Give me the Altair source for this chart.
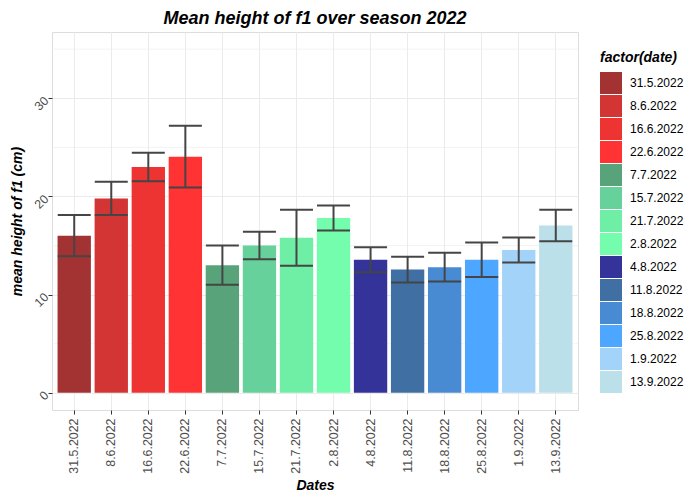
import altair as alt
import pandas as pd

dates = ["31.5.2022", "8.6.2022", "16.6.2022", "22.6.2022", "7.7.2022", "15.7.2022",
         "21.7.2022", "2.8.2022", "4.8.2022", "11.8.2022", "18.8.2022", "25.8.2022",
         "1.9.2022", "13.9.2022"]
means = [16.0, 19.8, 23.0, 24.05, 13.0, 15.0, 15.8, 17.8, 13.55, 12.55, 12.8, 13.55, 14.55, 17.05]
errs = [2.1, 1.7, 1.45, 3.15, 2.0, 1.4, 2.85, 1.27, 1.27, 1.32, 1.47, 1.75, 1.27, 1.6]
colors = ["#A33333", "#D33535", "#EE3333", "#FF3333", "#58A37A", "#66D19A", "#6FEEA6",
          "#73FDAD", "#33339A", "#3F6FA3", "#488BD2", "#4DA6FF", "#A3D3F8", "#BCE0EA"]
minor_grid = [5, 15, 25, 35]
major_ticks = [0, 10, 20, 30]

df = pd.DataFrame({"date": dates, "mean": means, "err": errs})
df["lo"] = df["mean"] - df["err"]
df["hi"] = df["mean"] + df["err"]
minor_df = pd.DataFrame({"v": minor_grid})

FONT = "Liberation Sans"

yscale = alt.Scale(domain=[-1.75, 36.75], nice=False, zero=False)
xscale = alt.Scale(paddingInner=0.1, paddingOuter=0.15)

x_enc = alt.X("date:N", sort=dates, scale=xscale,
              axis=alt.Axis(title="Dates", labelAngle=-90, grid=True, gridColor="#EBEBEB",
                            domain=False, tickColor="#333333", tickSize=4, labelPadding=4,
                            labelFontSize=12.4, labelColor="#4D4D4D", labelFont=FONT,
                            titleFont=FONT, titleFontSize=14, titleFontWeight="bold",
                            titleFontStyle="italic", titleColor="black", titlePadding=5))

minor = alt.Chart(minor_df).mark_rule(color="#EBEBEB", strokeWidth=0.6).encode(
    y=alt.Y("v:Q", scale=yscale)
)

bars = alt.Chart(df).mark_bar(opacity=1).encode(
    x=x_enc,
    y=alt.Y("mean:Q", scale=yscale,
            axis=alt.Axis(title="mean height of f1 (cm)", values=major_ticks, labelAngle=-45,
                          grid=True, gridColor="#EBEBEB", domain=False, tickColor="#333333",
                          tickSize=4, labelPadding=2, labelFontSize=12.4, labelColor="#4D4D4D",
                          labelFont=FONT, titleFont=FONT, titleFontSize=14,
                          titleFontWeight="bold", titleFontStyle="italic", titleColor="black",
                          titlePadding=8)),
    y2=alt.datum(0),
    color=alt.Color("date:N", sort=dates,
                    scale=alt.Scale(domain=dates, range=colors),
                    legend=alt.Legend(title="factor(date)", orient="none", legendX=548,
                                      legendY=19, symbolType="square", symbolSize=484,
                                      symbolStrokeWidth=0, symbolOpacity=1, rowPadding=1,
                                      labelOffset=8, labelFontSize=12, labelColor="black",
                                      labelFont=FONT, titleFont=FONT, titleFontSize=14,
                                      titleFontWeight="bold", titleFontStyle="italic",
                                      titleColor="black", titlePadding=7, padding=0)),
)

rule = alt.Chart(df).mark_rule(color="#454545", strokeWidth=2).encode(
    x=alt.X("date:N", sort=dates, scale=xscale),
    y=alt.Y("lo:Q", scale=yscale),
    y2="hi:Q",
)
tick_lo = alt.Chart(df).mark_tick(color="#454545", thickness=2, size=33, opacity=1).encode(
    x=alt.X("date:N", sort=dates, scale=xscale),
    y=alt.Y("lo:Q", scale=yscale),
)
tick_hi = alt.Chart(df).mark_tick(color="#454545", thickness=2, size=33, opacity=1).encode(
    x=alt.X("date:N", sort=dates, scale=xscale),
    y=alt.Y("hi:Q", scale=yscale),
)

chart = alt.layer(minor, bars, rule, tick_lo, tick_hi).properties(
    width=526, height=378,
    title=alt.TitleParams("Mean height of f1 over season 2022", font=FONT, fontSize=18,
                          fontWeight="bold", fontStyle="italic", color="black",
                          anchor="middle", offset=4),
    autosize=alt.AutoSizeParams(type="none"),
    padding={"left": 44, "top": 24, "right": 110, "bottom": 88},
).configure_view(stroke="#333333", strokeWidth=1).configure(background="white")

chart.save("out.html", embed_options={"renderer": "svg", "actions": False})
